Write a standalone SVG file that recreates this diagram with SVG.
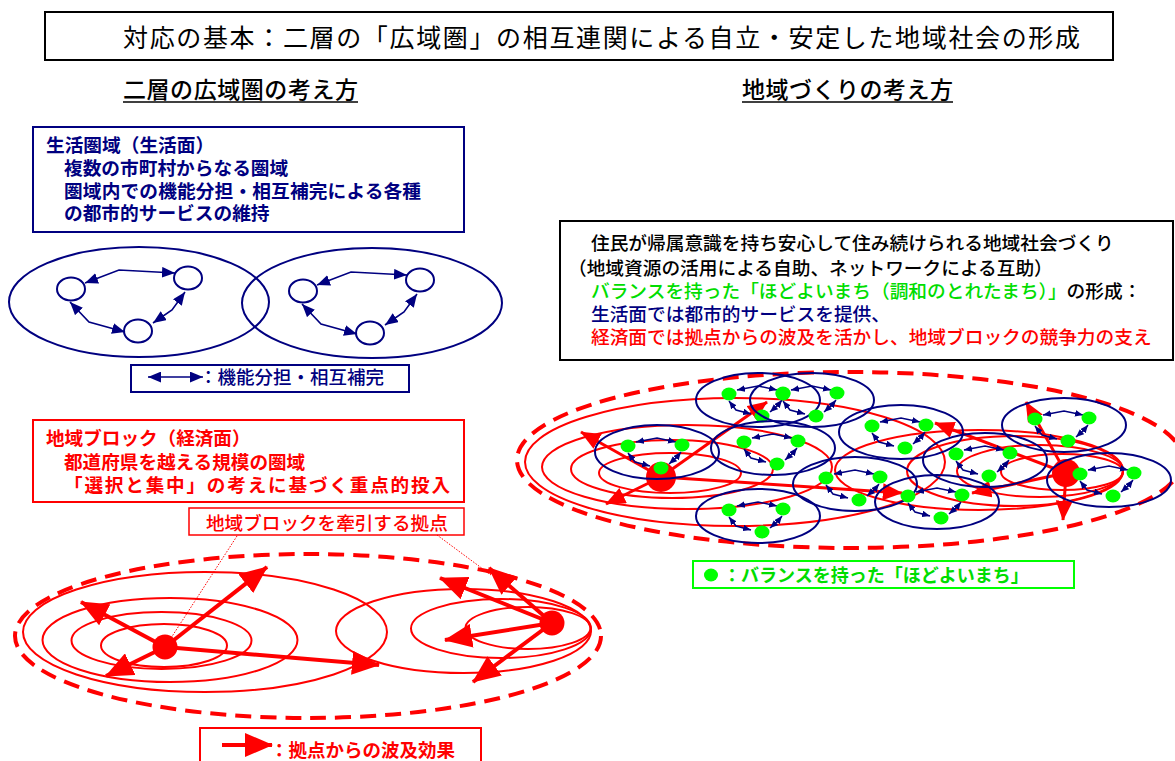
<svg xmlns="http://www.w3.org/2000/svg" width="1175" height="761" viewBox="0 0 1175 761">
<defs>
<style>
text{font-family:"Noto Sans CJK JP","Noto Sans CJK SC",sans-serif;}
.b{font-weight:700}
.m{font-weight:500}
.navy{fill:#000080}
.red{fill:#ff0000}
.grn{fill:#00dd00}
.blk{fill:#000}
.rl{fill:none;stroke:#ff0000;stroke-width:2}
.dash{fill:none;stroke:#ff0000;stroke-width:4;stroke-dasharray:16 9}
.ra{fill:none;stroke:#ff0000;stroke-width:4;marker-end:url(#rhL)}
.ras{fill:none;stroke:#ff0000;stroke-width:3;marker-end:url(#rhS)}
.nl{fill:none;stroke:#000080;stroke-width:2}
.na{fill:none;stroke:#000080;stroke-width:1.6;marker-start:url(#nhL);marker-end:url(#nhL)}
.nas{fill:none;stroke:#000080;stroke-width:1.5;marker-start:url(#nhS);marker-end:url(#nhS)}
.gd{fill:#00ff00}
.dot{fill:none;stroke:#ff0000;stroke-width:1;stroke-dasharray:1.5 1.5}
</style>
<marker id="nhL" viewBox="0 0 12 10" markerWidth="13" markerHeight="11" refX="12" refY="5" orient="auto-start-reverse" markerUnits="userSpaceOnUse"><path d="M0,0 L12,5 L0,10 Z" fill="#000080"/></marker>
<marker id="nhS" viewBox="0 0 12 10" markerWidth="8" markerHeight="7" refX="12" refY="5" orient="auto-start-reverse" markerUnits="userSpaceOnUse"><path d="M0,0 L12,5 L0,10 Z" fill="#000080"/></marker>
<marker id="rhL" viewBox="0 0 28 24" markerWidth="28" markerHeight="24" refX="27" refY="12" orient="auto" markerUnits="userSpaceOnUse"><path d="M0,0 L28,12 L0,24 Z" fill="#ff0000"/></marker>
<marker id="rhS" viewBox="0 0 28 24" markerWidth="20" markerHeight="17" refX="27" refY="12" orient="auto" markerUnits="userSpaceOnUse"><path d="M0,0 L28,12 L0,24 Z" fill="#ff0000"/></marker>
<g id="town">
<ellipse rx="62" ry="27" class="nl"/>
<path d="M-21,-10 L0,-14 L19,-10" class="nas"/>
<path d="M-29,1 L-22,10 L-7,14" class="nas"/>
<path d="M24,0 L20,5 L12,12" class="nas"/>
<ellipse cx="-29" cy="-6" rx="7.5" ry="6.5" class="gd"/>
<ellipse cx="25" cy="-7" rx="7.5" ry="6.5" class="gd"/>
<ellipse cx="4" cy="16" rx="7.5" ry="6.5" class="gd"/>
</g>
</defs>
<rect width="1175" height="761" fill="#fff"/>

<g id="title">
<rect x="45" y="12" width="1068" height="48" fill="none" stroke="#000" stroke-width="2"/>
<text x="123" y="47" font-size="25" textLength="957" lengthAdjust="spacing" class="blk">対応の基本：二層の「広域圏」の相互連関による自立・安定した地域社会の形成</text>
</g>

<g id="heading-left">
<text x="123" y="98" font-size="23" textLength="235" class="m blk">二層の広域圏の考え方</text>
<line x1="123" y1="102" x2="358" y2="102" stroke="#000" stroke-width="1.5"/>
</g>
<g id="heading-right">
<text x="742" y="98" font-size="23" textLength="211" class="m blk">地域づくりの考え方</text>
<line x1="742" y1="102" x2="953" y2="102" stroke="#000" stroke-width="1.5"/>
</g>

<g id="box-seikatsu">
<rect x="33" y="127" width="431" height="105" fill="#fff" stroke="#000080" stroke-width="2"/>
<text x="46" y="152" font-size="18.7" class="b navy">生活圏域（生活面）</text>
<text x="64" y="175" font-size="18.7" class="b navy">複数の市町村からなる圏域</text>
<text x="64" y="198" font-size="18.7" textLength="357" class="b navy">圏域内での機能分担・相互補完による各種</text>
<text x="64" y="220" font-size="18.7" class="b navy">の都市的サービスの維持</text>
</g>

<g id="seikatsu-areas">
<ellipse cx="139" cy="302" rx="130" ry="55" class="nl"/>
<ellipse cx="372" cy="303" rx="130" ry="55" class="nl"/>
<ellipse cx="71" cy="289" rx="14" ry="11.5" class="nl" fill="#fff"/>
<ellipse cx="188" cy="278" rx="14" ry="11.5" class="nl"/>
<ellipse cx="138" cy="331" rx="14" ry="11.5" class="nl"/>
<ellipse cx="303" cy="291" rx="14" ry="11.5" class="nl"/>
<ellipse cx="420" cy="280" rx="14" ry="11.5" class="nl"/>
<ellipse cx="370" cy="333" rx="14" ry="11.5" class="nl"/>
<path d="M85,283 L119,270 L175,273" class="na"/>
<path d="M70,302 L89,322 L125,332" class="na"/>
<path d="M185,292 L172,310 L153,323" class="na"/>
<path d="M317,285 L351,272 L407,275" class="na"/>
<path d="M302,304 L321,324 L357,334" class="na"/>
<path d="M417,294 L404,312 L385,325" class="na"/>
</g>

<g id="legend-kino">
<rect x="131" y="365" width="278" height="27" fill="none" stroke="#000080" stroke-width="2"/>
<path d="M148,377 L203,377" class="na"/>
<text x="199" y="384" font-size="18.5" class="m navy">：機能分担・相互補完</text>
</g>

<g id="box-block">
<rect x="33" y="420" width="431" height="82" fill="#fff" stroke="#ff0000" stroke-width="2"/>
<text x="46" y="445" font-size="18.6" class="b red">地域ブロック（経済面）</text>
<text x="64" y="469" font-size="18.6" class="b red">都道府県を越える規模の圏域</text>
<text x="64" y="492" font-size="18.6" textLength="386" class="b red">「選択と集中」の考えに基づく重点的投入</text>
</g>

<g id="label-kyoten">
<rect x="189" y="508" width="275" height="27" fill="#fff" stroke="#ff0000" stroke-width="1.5"/>
<text x="206" y="530" font-size="18.6" class="m red">地域ブロックを牽引する拠点</text>
</g>

<g id="block-diagram">
<ellipse cx="308" cy="636" rx="293" ry="82" class="dash"/>
<ellipse cx="164" cy="645.5" rx="63" ry="21.5" class="rl"/>
<ellipse cx="161.5" cy="640.5" rx="90" ry="28.5" class="rl"/>
<ellipse cx="170" cy="640" rx="127.5" ry="42" class="rl"/>
<ellipse cx="205" cy="632" rx="182" ry="60" class="rl"/>
<ellipse cx="463.5" cy="631" rx="127.5" ry="42" class="rl"/>
<ellipse cx="501" cy="628.5" rx="90" ry="29.5" class="rl"/>
<ellipse cx="528" cy="628" rx="62.5" ry="21" class="rl"/>
</g>

<g id="connectors">
<path d="M237,536 L171,638" class="dot"/>
<path d="M437,535 L491,575" class="dot"/>
<path d="M165,647 L81,602" class="ra"/>
<path d="M165,647 L267,567" class="ra"/>
<path d="M165,647 L106,676" class="ra"/>
<path d="M165,647 L379,665" class="ra"/>
<path d="M552,623 L440,578" class="ra"/>
<path d="M552,623 L489,568" class="ra"/>
<path d="M552,623 L445,640" class="ra"/>
<path d="M552,623 L473,682" class="ra"/>
</g>
<g id="hub-left"><circle cx="165" cy="647" r="12.5" fill="#ff0000"/></g>
<g id="hub-right"><circle cx="552" cy="623" r="12.5" fill="#ff0000"/></g>

<g id="legend-hakyu">
<rect x="200" y="728" width="281" height="40" fill="none" stroke="#ff0000" stroke-width="2"/>
<path d="M222,745 L272,745" class="ra"/>
<text x="270" y="757" font-size="18.5" class="b red">：拠点からの波及効果</text>
</g>

<g id="box-chiiki">
<rect x="560" y="221" width="613" height="139" fill="#fff" stroke="#000" stroke-width="2"/>
<text x="591" y="250" font-size="18.7" class="m blk">住民が帰属意識を持ち安心して住み続けられる地域社会づくり</text>
<text x="568" y="275" font-size="18.7" class="m blk">（地域資源の活用による自助、ネットワークによる互助）</text>
<text x="591" y="298" font-size="18.7" class="m"><tspan class="grn">バランスを持った「ほどよいまち（調和のとれたまち）」</tspan><tspan class="blk">の形成：</tspan></text>
<text x="591" y="321" font-size="18.7" class="m navy">生活面では都市的サービスを提供、</text>
<text x="591" y="344" font-size="18.7" class="m red">経済面では拠点からの波及を活かし、地域ブロックの競争力の支え</text>
</g>

<g id="region-block">
<ellipse cx="850" cy="460" rx="333" ry="88" class="dash"/>
<ellipse cx="670" cy="473" rx="71" ry="20" class="rl"/>
<ellipse cx="672" cy="469" rx="101" ry="29" class="rl"/>
<ellipse cx="687" cy="467" rx="145" ry="42" class="rl"/>
<ellipse cx="735" cy="462" rx="210" ry="64" class="rl"/>
<ellipse cx="979" cy="470" rx="144" ry="40" class="rl"/>
<ellipse cx="1015" cy="471" rx="108" ry="35" class="rl"/>
<ellipse cx="1040" cy="471" rx="83" ry="26" class="rl"/>
<ellipse cx="1062" cy="472" rx="61" ry="18" class="rl"/>
</g>
<g id="region-arrows">
<path d="M661,477 L581,432" class="ras"/>
<path d="M661,477 L606,504" class="ras"/>
<path d="M661,477 L767,402" class="ras"/>
<path d="M661,477 L902,493" class="ras"/>
<path d="M1066,473 L935,423" class="ras"/>
<path d="M1066,473 L1026,402" class="ras"/>
<path d="M1066,473 L972,493" class="ras"/>
<path d="M1066,473 L1063,520" class="ras"/>
</g>
<g id="region-hub-left"><circle cx="661" cy="477" r="15" fill="#ff0000"/></g>
<g id="region-hub-right"><circle cx="1066" cy="473" r="14" fill="#ff0000"/></g>

<g id="town-1" transform="translate(758,400)"><use href="#town"/></g>
<g id="town-2" transform="translate(812,400)"><use href="#town"/></g>
<g id="town-3" transform="translate(773,448)"><use href="#town"/></g>
<g id="town-4" transform="translate(901,432)"><use href="#town"/></g>
<g id="town-5" transform="translate(657,452)"><use href="#town"/></g>
<g id="town-6" transform="translate(758,516)"><use href="#town"/></g>
<g id="town-7" transform="translate(855,484)"><use href="#town"/></g>
<g id="town-8" transform="translate(937,502)"><use href="#town"/></g>
<g id="town-9" transform="translate(985,460)"><use href="#town"/></g>
<g id="town-10" transform="translate(1064,425)"><use href="#town"/></g>
<g id="town-11" transform="translate(1109,480)"><use href="#town"/></g>

<g id="legend-hodoyoi">
<rect x="693" y="561" width="381" height="27" fill="none" stroke="#00ff00" stroke-width="2"/>
<ellipse cx="711" cy="575" rx="7" ry="6.5" class="gd"/>
<text x="723" y="582" font-size="18" class="b grn">：バランスを持った「ほどよいまち」</text>
</g>
</svg>
